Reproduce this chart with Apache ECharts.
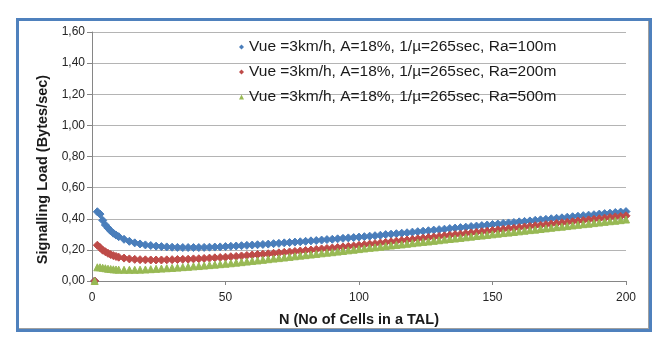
<!DOCTYPE html>
<html>
<head>
<meta charset="utf-8">
<script src="https://cdn.jsdelivr.net/npm/echarts@6/dist/echarts.min.js"></script>
<style>
	html, body { margin: 0; padding: 0; background: #fff; }
	#chart { width: 668px; height: 354px; }
	#frame {
		position: absolute; left: 16px; top: 18px; width: 630px; height: 308px;
		border: 3px solid #4f81bd; box-shadow: inset -1px -1px 0 #a0a0a0;
		pointer-events: none;
	}
</style>
</head>
<body>
<div id="chart"></div>
<div id="frame"></div>
<script>
	// N values (cells in a TAL)
	const nValues = [1, 2, 3, 4, 5, 6, 7, 8, 9, 10,
		12, 14, 16, 18, 20, 22, 24, 26, 28, 30, 32, 34, 36, 38, 40, 42, 44, 46, 48, 50,
		52, 54, 56, 58, 60, 62, 64, 66, 68, 70, 72, 74, 76, 78, 80, 82, 84, 86, 88, 90,
		92, 94, 96, 98, 100, 102, 104, 106, 108, 110, 112, 114, 116, 118, 120, 122, 124, 126, 128, 130,
		132, 134, 136, 138, 140, 142, 144, 146, 148, 150, 152, 154, 156, 158, 160, 162, 164, 166, 168, 170,
		172, 174, 176, 178, 180, 182, 184, 186, 188, 190, 192, 194, 196, 198, 200];

	// Ra = 100m
	const load100 = [0, 0.445, 0.43, 0.39, 0.36, 0.34, 0.322, 0.307, 0.295, 0.285,
		0.268, 0.255, 0.245, 0.238, 0.232, 0.228, 0.224, 0.221, 0.219, 0.217, 0.216, 0.215, 0.215, 0.215, 0.215, 0.216, 0.217, 0.218, 0.219, 0.221,
		0.223, 0.225, 0.227, 0.229, 0.231, 0.233, 0.235, 0.237, 0.24, 0.242, 0.245, 0.247, 0.25, 0.252, 0.255, 0.258, 0.26, 0.263, 0.266, 0.268,
		0.271, 0.274, 0.277, 0.279, 0.282, 0.285, 0.288, 0.291, 0.294, 0.298, 0.301, 0.304, 0.307, 0.31, 0.314, 0.317, 0.32, 0.323, 0.327, 0.33,
		0.333, 0.337, 0.34, 0.343, 0.346, 0.35, 0.353, 0.356, 0.36, 0.363, 0.366, 0.37, 0.373, 0.376, 0.38, 0.383, 0.386, 0.39, 0.393, 0.396,
		0.4, 0.403, 0.406, 0.41, 0.413, 0.416, 0.42, 0.423, 0.426, 0.43, 0.433, 0.436, 0.44, 0.443, 0.446];

	// Ra = 200m
	const load200 = [0, 0.23, 0.215, 0.198, 0.188, 0.178, 0.17, 0.163, 0.158, 0.153,
		0.147, 0.142, 0.139, 0.137, 0.136, 0.135, 0.135, 0.135, 0.136, 0.137, 0.138, 0.139, 0.14, 0.142, 0.143, 0.145, 0.147, 0.149, 0.151, 0.153,
		0.156, 0.158, 0.161, 0.164, 0.167, 0.17, 0.172, 0.175, 0.178, 0.181, 0.184, 0.187, 0.19, 0.193, 0.196, 0.199, 0.203, 0.206, 0.209, 0.212,
		0.215, 0.219, 0.222, 0.225, 0.229, 0.233, 0.237, 0.24, 0.244, 0.248, 0.252, 0.256, 0.26, 0.263, 0.267, 0.271, 0.275, 0.279, 0.282, 0.286,
		0.29, 0.294, 0.298, 0.301, 0.305, 0.309, 0.313, 0.317, 0.32, 0.324, 0.328, 0.332, 0.336, 0.339, 0.343, 0.347, 0.351, 0.355, 0.358, 0.362,
		0.366, 0.37, 0.374, 0.377, 0.381, 0.385, 0.389, 0.393, 0.396, 0.4, 0.404, 0.408, 0.412, 0.415, 0.419];

	// Ra = 500m
	const load500 = [0, 0.088, 0.088, 0.085, 0.082, 0.079, 0.077, 0.075, 0.074, 0.073,
		0.072, 0.072, 0.072, 0.073, 0.074, 0.076, 0.078, 0.08, 0.082, 0.084, 0.086, 0.089, 0.091, 0.094, 0.096, 0.099, 0.102, 0.105, 0.108, 0.111,
		0.114, 0.118, 0.121, 0.125, 0.129, 0.132, 0.136, 0.14, 0.144, 0.147, 0.151, 0.155, 0.159, 0.163, 0.166, 0.17, 0.174, 0.178, 0.182, 0.185,
		0.189, 0.193, 0.197, 0.201, 0.205, 0.209, 0.213, 0.216, 0.22, 0.224, 0.228, 0.232, 0.235, 0.239, 0.243, 0.247, 0.251, 0.254, 0.258, 0.262,
		0.266, 0.27, 0.273, 0.277, 0.281, 0.285, 0.289, 0.292, 0.296, 0.3, 0.304, 0.308, 0.311, 0.315, 0.319, 0.323, 0.327, 0.33, 0.334, 0.338,
		0.342, 0.346, 0.349, 0.353, 0.357, 0.361, 0.365, 0.368, 0.372, 0.376, 0.38, 0.384, 0.387, 0.391, 0.395];

	const seriesNames = [
		"Vue =3km/h, A=18%, 1/µ=265sec, Ra=100m",
		"Vue =3km/h, A=18%, 1/µ=265sec, Ra=200m",
		"Vue =3km/h, A=18%, 1/µ=265sec, Ra=500m"
	];
	const seriesColors = ["#4a7ebb", "#be4b48", "#98b954"];
	const seriesSymbols = ["diamond", "diamond", "triangle"];
	const seriesSizes = [8, 8, 7];

	const toPairs = (vals) => nValues.map((n, i) => [n, vals[i]]);
	const allLoads = [load100, load200, load500];

	const chart = echarts.init(document.getElementById("chart"));

	const option = {
		animation: false,
		backgroundColor: "#fff",
		textStyle: { fontFamily: "Liberation Sans" },
		grid: { left: 92, right: 42, top: 32, bottom: 73 },
		legend: {
			orient: "vertical",
			left: 234,
			top: 33,
			itemWidth: 5,
			itemHeight: 5,
			itemGap: 7,
			itemStyle: { borderWidth: 0 },
			textStyle: { fontSize: 15.5, color: "#1a1a1a", lineHeight: 18 },
			data: seriesNames.map((name, i) => ({ name: name, icon: seriesSymbols[i] }))
		},
		xAxis: {
			type: "value",
			min: 0,
			max: 200,
			interval: 50,
			name: "N (No of Cells in a TAL)",
			nameLocation: "middle",
			nameGap: 31,
			nameTextStyle: { fontSize: 14.5, fontWeight: "bold", color: "#1a1a1a" },
			axisLine: { lineStyle: { color: "#868686" } },
			axisTick: { show: true, length: 4, lineStyle: { color: "#868686" } },
			axisLabel: { fontSize: 12, color: "#262626", margin: 11 },
			splitLine: { show: false }
		},
		yAxis: {
			type: "value",
			min: 0,
			max: 1.6,
			interval: 0.2,
			name: "Signalling Load (Bytes/sec)",
			nameLocation: "middle",
			nameGap: 41,
			nameTextStyle: { fontSize: 14.5, fontWeight: "bold", color: "#1a1a1a", padding: [0, 26, 0, 0] },
			axisLine: { show: true, lineStyle: { color: "#868686" } },
			axisTick: { show: true, length: 5, lineStyle: { color: "#868686" } },
			axisLabel: {
				fontSize: 12,
				color: "#262626",
				margin: 7,
				formatter: (v) => v.toFixed(2).replace(".", ",")
			},
			splitLine: { lineStyle: { color: "#b4b4b4", width: 1 } }
		},
		series: allLoads.map((vals, i) => ({
			name: seriesNames[i],
			type: "scatter",
			symbol: seriesSymbols[i],
			symbolSize: seriesSizes[i],
			// thin outline in the same colour makes the marker band denser
			itemStyle: { color: seriesColors[i], borderColor: seriesColors[i], borderWidth: 1, opacity: 1 },
			data: toPairs(vals)
		}))
	};

	chart.setOption(option);
</script>
</body>
</html>
